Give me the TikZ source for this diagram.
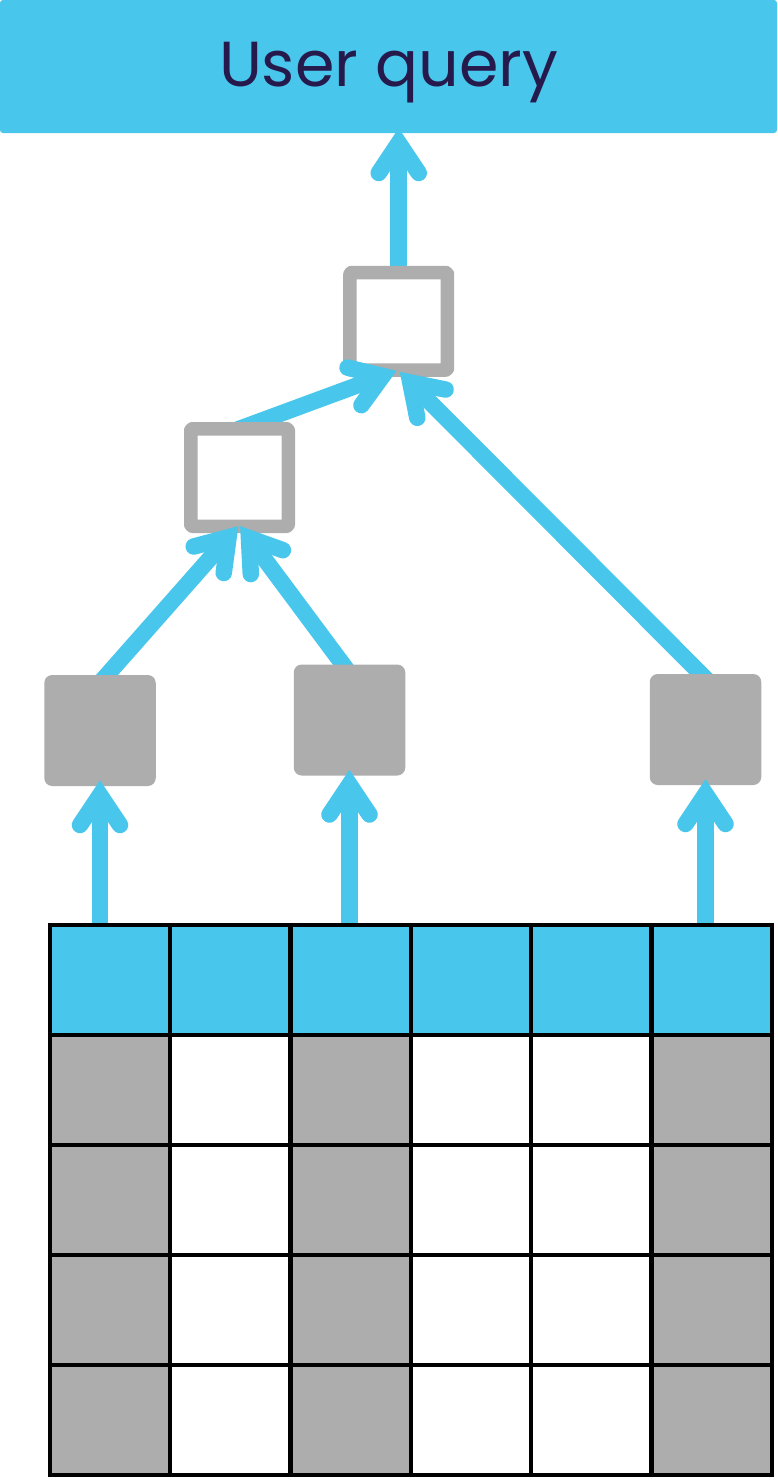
\documentclass[tikz,border=0pt]{standalone}
\usepackage{fontspec}
\usetikzlibrary{arrows.meta}
\newfontfamily\popfont{Poppins}
\definecolor{ublue}{HTML}{48C6EC}
\definecolor{ugrey}{HTML}{ADADAD}
\definecolor{uink}{HTML}{261A4C}
\pgfdeclarearrow{
  name=UBarb,
  setup code={
    \pgfarrowssettipend{0pt}
    \pgfarrowssetlineend{-15pt}
    \pgfarrowssetvisualtipend{0pt}
    \pgfarrowssetbackend{-54pt}
    \pgfarrowssetvisualbackend{-45pt}
    \pgfarrowshullpoint{0pt}{0pt}
    \pgfarrowshullpoint{-54pt}{29pt}
    \pgfarrowshullpoint{-54pt}{-29pt}
  },
  drawing code={
    \pgfsetlinewidth{16.5pt}
    \pgfsetroundcap
    \pgfsetmiterjoin
    \pgfpathmoveto{\pgfqpoint{-45pt}{20pt}}
    \pgfpathlineto{\pgfqpoint{-15pt}{0pt}}
    \pgfpathlineto{\pgfqpoint{-45pt}{-20pt}}
    \pgfusepathqstroke
  }
}
\pgfdeclarelayer{A}\pgfdeclarelayer{B}\pgfdeclarelayer{C}\pgfdeclarelayer{D}
\pgfdeclarelayer{E}\pgfdeclarelayer{F}\pgfdeclarelayer{G}\pgfdeclarelayer{H}
\pgfdeclarelayer{I}
\pgfsetlayers{main,A,B,C,D,E,F,G,H,I}
\tikzset{
  arr/.style={draw=ublue,line width=16.5pt,-{UBarb}},
  from under/.style={shorten <=-30pt},
  hollow/.style={draw=ugrey,fill=white,line width=13.5pt,line join=round,minimum width=97.5pt,minimum height=97.5pt,rounded corners=1.5pt,inner sep=0pt},
  solid box/.style={fill=ugrey,minimum width=111.5pt,minimum height=111pt,rounded corners=8pt,inner sep=0pt,outer sep=0pt},
  cell/.style={draw=black,line width=4.3pt,minimum width=120.33pt,minimum height=110pt,inner sep=0pt,outer sep=0pt}
}
\begin{document}
\begin{tikzpicture}[x=1pt,y=-1pt]
\useasboundingbox[fill=white] (0,0) rectangle (777,1480);
\begin{pgfonlayer}{A}
  \node[fill=ublue,minimum width=777pt,minimum height=133pt,rounded corners=3pt,inner sep=0pt,outer sep=0pt,
        text=uink,font=\popfont\fontsize{63.6}{64}\selectfont,text height=46pt,text depth=7pt] (top) at (388.5,66.5) {User query};
\end{pgfonlayer}
\begin{pgfonlayer}{C}
  \node[hollow] (b1) at (398.7,321.3) {};
\end{pgfonlayer}
\begin{pgfonlayer}{E}
  \node[hollow] (b2) at (239.5,477.5) {};
\end{pgfonlayer}
\begin{pgfonlayer}{G}
  \node[solid box] (l1) at (100,730.5) {};
  \node[solid box] (l2) at (349.5,720) {};
  \node[solid box] (l3) at (705.5,729.5) {};
\end{pgfonlayer}
\begin{pgfonlayer}{I}
  \foreach \i/\x in {1/110,2/230.33,3/350.67,4/471,5/591.33,6/711.67}{
    \node[cell,fill=ublue] (c\i) at (\x,980.3) {};
  }
  \foreach \x/\f in {110/ugrey,230.33/white,350.67/ugrey,471/white,591.33/white,711.67/ugrey}{
    \foreach \y in {1090,1200,1310,1420}{
      \node[cell,fill=\f] at (\x,\y) {};
    }
  }
\end{pgfonlayer}
\begin{pgfonlayer}{B}
  \draw[arr] (b1.north) -- ([yshift=5pt]top.south -| b1.north);
\end{pgfonlayer}
\begin{pgfonlayer}{D}
  \draw[arr,from under] ([xshift=18.5pt]b2.north) -- ([xshift=-2pt,yshift=6pt]b1.south);
  \draw[arr,from under] ([xshift=-4.5pt]l3.north) -- ([xshift=1pt,yshift=5pt]b1.south);
\end{pgfonlayer}
\begin{pgfonlayer}{F}
  \draw[arr,from under] ([xshift=7pt]l1.north) -- ([xshift=-1pt,yshift=7pt]b2.south);
  \draw[arr,from under] ([xshift=-6.5pt]l2.north) -- ([xshift=.5pt,yshift=7pt]b2.south);
\end{pgfonlayer}
\begin{pgfonlayer}{H}
  \draw[arr] (c1.north -| l1.south) -- ([yshift=6pt]l1.south);
  \draw[arr] (c3.north -| l2.south) -- ([yshift=6pt]l2.south);
  \draw[arr] (c6.north -| l3.south) -- ([yshift=6pt]l3.south);
\end{pgfonlayer}
\end{tikzpicture}
\end{document}
